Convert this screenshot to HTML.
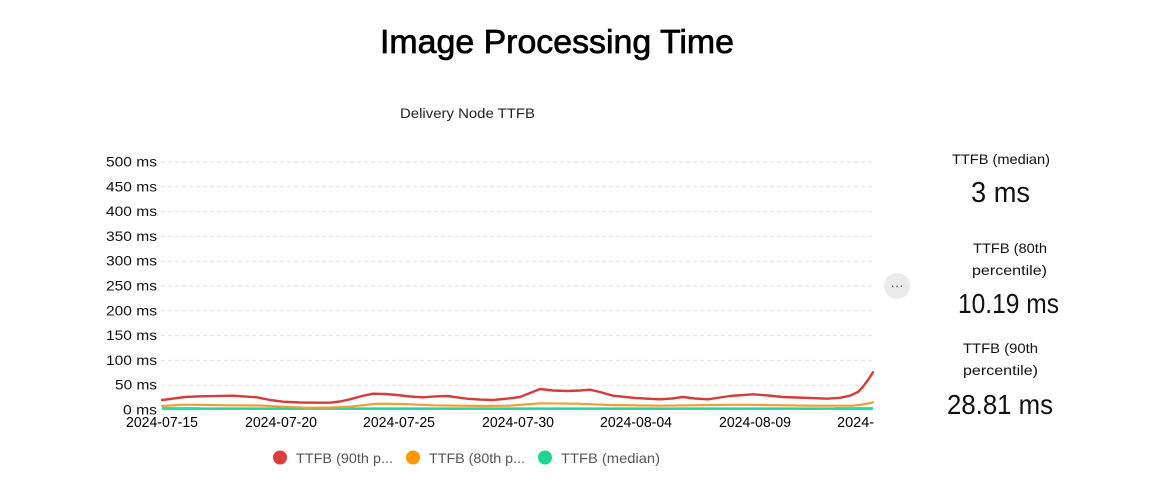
<!DOCTYPE html>
<html>
<head>
<meta charset="utf-8">
<style>
  html,body{margin:0;padding:0;background:#fff;}
  svg{display:block;}
  text{font-family:"Liberation Sans","DejaVu Sans",sans-serif;}
</style>
</head>
<body>
<svg width="1152" height="485" viewBox="0 0 1152 485" xmlns="http://www.w3.org/2000/svg">
  <rect width="1152" height="485" fill="#fff"/>
  <!-- Title -->
  <text x="380" y="53" font-size="33" fill="#000" stroke="#000" stroke-width="0.7" textLength="354" lengthAdjust="spacingAndGlyphs">Image Processing Time</text>
  <text x="400" y="118" font-size="14" fill="#222" textLength="135" lengthAdjust="spacingAndGlyphs">Delivery Node TTFB</text>

  <!-- Grid lines -->
  <g stroke="#e2e2e2" stroke-width="1" stroke-dasharray="4,3">
    <line x1="161" x2="874" y1="162" y2="162"/>
    <line x1="161" x2="874" y1="186.8" y2="186.8"/>
    <line x1="161" x2="874" y1="211.6" y2="211.6"/>
    <line x1="161" x2="874" y1="236.4" y2="236.4"/>
    <line x1="161" x2="874" y1="261.2" y2="261.2"/>
    <line x1="161" x2="874" y1="286" y2="286"/>
    <line x1="161" x2="874" y1="310.8" y2="310.8"/>
    <line x1="161" x2="874" y1="335.6" y2="335.6"/>
    <line x1="161" x2="874" y1="360.4" y2="360.4"/>
    <line x1="161" x2="874" y1="385.2" y2="385.2"/>
  </g>

  <!-- Y labels -->
  <g font-size="14" fill="#111" text-anchor="end" lengthAdjust="spacingAndGlyphs">
    <text x="157" y="166.5" textLength="51" lengthAdjust="spacingAndGlyphs">500 ms</text>
    <text x="157" y="191.3" textLength="51" lengthAdjust="spacingAndGlyphs">450 ms</text>
    <text x="157" y="216.1" textLength="51" lengthAdjust="spacingAndGlyphs">400 ms</text>
    <text x="157" y="240.9" textLength="51" lengthAdjust="spacingAndGlyphs">350 ms</text>
    <text x="157" y="265.7" textLength="51" lengthAdjust="spacingAndGlyphs">300 ms</text>
    <text x="157" y="290.5" textLength="51" lengthAdjust="spacingAndGlyphs">250 ms</text>
    <text x="157" y="315.3" textLength="51" lengthAdjust="spacingAndGlyphs">200 ms</text>
    <text x="157" y="340.1" textLength="51" lengthAdjust="spacingAndGlyphs">150 ms</text>
    <text x="157" y="364.9" textLength="51" lengthAdjust="spacingAndGlyphs">100 ms</text>
    <text x="157" y="389.7" textLength="42" lengthAdjust="spacingAndGlyphs">50 ms</text>
    <text x="157" y="414.5" textLength="34" lengthAdjust="spacingAndGlyphs">0 ms</text>
  </g>

  <!-- X labels -->
  <g font-size="14.5" fill="#000" text-anchor="middle">
    <text x="162" y="427" textLength="72" lengthAdjust="spacingAndGlyphs">2024-07-15</text>
    <text x="281" y="427" textLength="72" lengthAdjust="spacingAndGlyphs">2024-07-20</text>
    <text x="399" y="427" textLength="72" lengthAdjust="spacingAndGlyphs">2024-07-25</text>
    <text x="518" y="427" textLength="72" lengthAdjust="spacingAndGlyphs">2024-07-30</text>
    <text x="636" y="427" textLength="72" lengthAdjust="spacingAndGlyphs">2024-08-04</text>
    <text x="755" y="427" textLength="72" lengthAdjust="spacingAndGlyphs">2024-08-09</text>
  </g>
  <text x="837" y="427" font-size="14.5" fill="#000">2024-</text>
  <rect x="874" y="412" width="30" height="20" fill="#fff"/>

  <!-- Series -->
  <polyline fill="none" stroke="#22d3a0" stroke-width="2.5" points="162,408.6 873,408.6"/>
  <polyline fill="none" stroke="#1ee0a8" stroke-width="3" points="162,408.6 200,408.6"/>
  <polyline fill="none" stroke="#1ee0a8" stroke-width="3" points="835,408.6 873,408.6"/>

  <polyline fill="none" stroke="#f0a030" stroke-width="2.2" stroke-linejoin="round" stroke-linecap="round"
    points="162,406 185,404.7 230,405.3 260,405.5 285,406.8 307,407.7 330,407.5 350,406.7 365,405 377,403.7 403,404 433,405.3 483,406 510,405.7 525,404.5 540,403.3 577,403.7 610,405 660,405.7 700,405.2 743,404.7 810,405.7 853,405.7 863,404.5 873,402.3"/>

  <polyline fill="none" stroke="#d63c3c" stroke-width="2.4" stroke-linejoin="round" stroke-linecap="round"
    points="162,400 175,398.3 185,397 200,396.3 233,395.7 257,397.3 270,400 283,401.7 300,402.5 317,402.7 330,402.7 340,401.5 350,399.3 362,396 373,393.7 385,394 397,395 410,396.5 423,397.3 435,396.4 447,396 457,397.3 467,398.7 480,399.6 493,400 510,398.3 520,397 530,393 540,389 553,390.5 567,391 580,390.5 590,389.7 600,392 613,395.7 635,398 660,399.3 672,398.5 683,397 695,398.5 708,399.3 720,397.5 730,396 753,394.3 768,395.5 783,397 810,398 827,398.7 840,397.8 850,395.7 858,392 863,386.7 868,380 873,372.3"/>

  <!-- Ellipsis button -->
  <circle cx="897" cy="286" r="13" fill="#ebebeb"/>
  <text x="897" y="290" font-size="13" fill="#555" text-anchor="middle">···</text>

  <!-- Legend -->
  <circle cx="280" cy="457.5" r="7" fill="#e03c3c"/>
  <text x="296" y="463" font-size="14" fill="#555" textLength="97" lengthAdjust="spacingAndGlyphs">TTFB (90th p...</text>
  <circle cx="413" cy="457.5" r="7" fill="#ff9800"/>
  <text x="429" y="463" font-size="14" fill="#555" textLength="96" lengthAdjust="spacingAndGlyphs">TTFB (80th p...</text>
  <circle cx="545" cy="457.5" r="7" fill="#1ed694"/>
  <text x="561" y="463" font-size="14" fill="#555" textLength="99" lengthAdjust="spacingAndGlyphs">TTFB (median)</text>

  <!-- Right side stats -->
  <g fill="#111">
    <text x="952" y="164" font-size="14" textLength="98" lengthAdjust="spacingAndGlyphs">TTFB (median)</text>
    <text x="971" y="202" font-size="29" textLength="59" lengthAdjust="spacingAndGlyphs">3 ms</text>

    <text x="973" y="253" font-size="14" textLength="74" lengthAdjust="spacingAndGlyphs">TTFB (80th</text>
    <text x="972" y="275" font-size="14" textLength="75" lengthAdjust="spacingAndGlyphs">percentile)</text>
    <text x="958" y="313" font-size="28" textLength="101" lengthAdjust="spacingAndGlyphs">10.19 ms</text>

    <text x="963" y="353" font-size="14" textLength="75" lengthAdjust="spacingAndGlyphs">TTFB (90th</text>
    <text x="963" y="375" font-size="14" textLength="75" lengthAdjust="spacingAndGlyphs">percentile)</text>
    <text x="947" y="414" font-size="28" textLength="106" lengthAdjust="spacingAndGlyphs">28.81 ms</text>
  </g>
</svg>
</body>
</html>
